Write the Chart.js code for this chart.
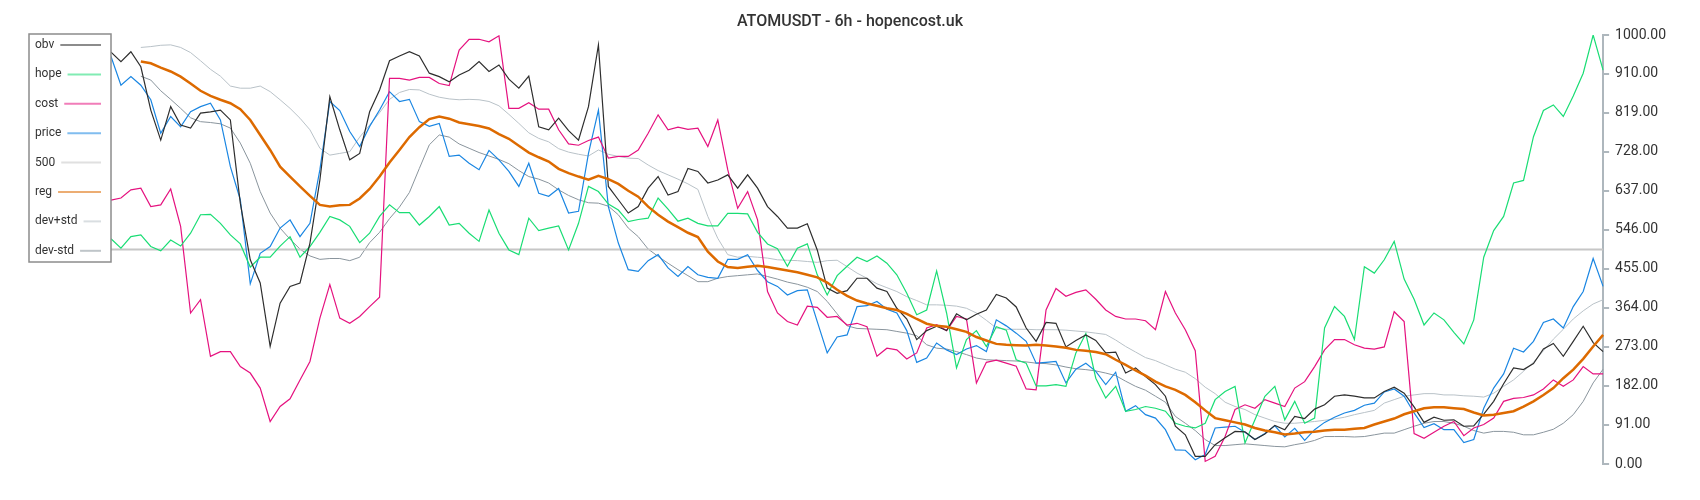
<!DOCTYPE html>
<html>
<head>
<meta charset="utf-8">
<title>ATOMUSDT - 6h - hopencost.uk</title>
<script src="https://cdn.jsdelivr.net/npm/chart.js@4.4.1/dist/chart.umd.min.js"></script>
<style>
  html, body { margin: 0; padding: 0; background: #fff; }
  #wrap { width: 1700px; height: 500px; }
</style>
</head>
<body>
<div id="wrap"><canvas id="chart"></canvas></div>
<script>
// values are normalised 0..1000, one per 6h candle
const obv = [960,
  938, 961, 926, 825, 755, 833, 790, 783, 818, 821, 825, 802, 608, 476, 422, 274, 375, 414, 422, 515, 662, 856,
  779, 709, 724, 821, 872, 940, 951, 961, 951, 911, 903, 891, 907, 918, 938, 915, 930, 897, 876, 904, 786,
  779, 806, 777, 755, 833, 977, 647, 616, 585, 600, 643, 670, 627, 635, 689, 682, 655, 662, 674, 643, 674,
  643, 600, 577, 550, 550, 560, 499, 410, 398, 404, 433, 433, 410, 402, 363, 338, 290, 311, 321, 311, 350,
  336, 349, 359, 395, 387, 366, 317, 286, 330, 328, 273, 288, 301, 288, 259, 261, 212, 224, 204, 185, 158,
  88, 68, 18, 18, 45, 61, 76, 75, 57, 70, 90, 80, 111, 106, 128, 138, 158, 161, 158, 154, 154,
  169, 179, 165, 133, 97, 109, 102, 103, 88, 89, 116, 146, 187, 224, 220, 234, 268, 281, 251, 286, 321, 283, 262];

const hope = [525,
  503, 530, 534, 507, 497, 522, 508, 538, 581, 582, 561, 534, 513, 459, 482, 482, 508, 530, 482, 507, 540, 577,
  569, 554, 516, 538, 577, 604, 586, 586, 557, 577, 600, 557, 561, 538, 519, 592, 538, 499, 488, 573, 544,
  550, 555, 499, 561, 647, 635, 606, 592, 565, 570, 573, 620, 594, 566, 573, 561, 555, 555, 584, 584, 583,
  540, 513, 502, 461, 503, 513, 441, 394, 439, 461, 482, 472, 485, 468, 441, 398, 348, 359, 450, 352, 224,
  290, 311, 274, 320, 312, 243, 235, 182, 182, 185, 181, 259, 304, 200, 154, 181, 123, 127, 134, 130, 123,
  95, 88, 84, 95, 150, 169, 181, 49, 103, 158, 181, 103, 146, 95, 107, 317, 367, 344, 290, 460, 445,
  476, 519, 431, 384, 324, 352, 336, 307, 280, 336, 482, 544, 577, 655, 661, 763, 824, 837, 810, 858, 911, 1000, 918];

const cost = [615,
  620, 639, 643, 600, 604, 641, 554, 352, 383, 251, 262, 262, 227, 212, 177, 99, 134, 152, 196, 239, 340, 418,
  340, 328, 344, 367, 389, 899, 899, 895, 901, 901, 887, 882, 965, 990, 990, 984, 998, 829, 829, 842, 827,
  827, 779, 746, 743, 754, 762, 713, 717, 717, 732, 771, 814, 779, 785, 780, 783, 740, 802, 686, 596, 635,
  569, 402, 352, 332, 324, 368, 365, 342, 344, 324, 328, 320, 251, 270, 266, 245, 259, 317, 325, 311, 344,
  338, 189, 237, 242, 235, 228, 175, 173, 359, 409, 391, 400, 406, 384, 359, 344, 338, 338, 334, 313, 402,
  352, 313, 264, 6, 18, 64, 127, 138, 130, 150, 142, 134, 177, 192, 227, 266, 290, 290, 278, 270, 268,
  273, 355, 332, 71, 60, 74, 88, 99, 66, 84, 92, 107, 146, 153, 155, 161, 175, 196, 181, 196, 227, 210, 210];

const price = [950,
  883, 903, 883, 849, 771, 810, 786, 821, 833, 841, 802, 693, 616, 420, 491, 507, 550, 569, 530, 561, 686, 845,
  824, 775, 740, 787, 825, 868, 845, 850, 798, 787, 794, 717, 720, 701, 686, 731, 709, 682, 647, 701, 631,
  624, 642, 585, 589, 724, 825, 600, 515, 453, 449, 474, 488, 457, 437, 460, 441, 435, 433, 477, 477, 488,
  451, 425, 414, 394, 404, 406, 332, 259, 296, 301, 367, 369, 379, 361, 352, 311, 237, 247, 282, 266, 255,
  268, 276, 262, 336, 322, 305, 286, 235, 237, 239, 189, 221, 235, 216, 185, 214, 123, 136, 115, 107, 80,
  33, 32, 10, 22, 84, 86, 88, 74, 57, 71, 89, 63, 83, 55, 80, 97, 109, 119, 125, 137, 142,
  168, 175, 158, 119, 85, 94, 80, 80, 50, 57, 130, 177, 210, 270, 261, 286, 330, 338, 317, 367, 402, 479, 414];

const reg = [null, null, null,
  938, 934, 924, 915, 903, 887, 870, 858, 849, 841, 827, 802, 767, 732, 693, 670, 647, 625, 604, 600,
  603, 604, 619, 641, 670, 703, 732, 762, 785, 804, 810, 805, 796, 792, 788, 782, 769, 758, 742, 726, 715,
  705, 688, 678, 670, 663, 672, 664, 653, 637, 623, 600, 581, 565, 552, 539, 529, 495, 472, 459, 457, 460,
  462, 459, 455, 451, 447, 441, 435, 423, 406, 392, 381, 374, 369, 363, 359, 350, 338, 327, 322, 320, 314,
  308, 296, 288, 280, 278, 277, 276, 278, 276, 274, 271, 266, 264, 261, 256, 243, 231, 218, 206, 192, 181,
  173, 161, 144, 125, 107, 102, 97, 92, 84, 78, 74, 69, 71, 74, 75, 78, 80, 80, 82, 84, 92,
  99, 106, 116, 123, 130, 132, 132, 130, 128, 120, 113, 115, 119, 123, 134, 146, 161, 177, 200, 220, 245, 274, 301];

const devPlus = [null, null, null,
  971, 973, 976, 977, 971, 959, 940, 920, 904, 881, 876, 876, 881, 868, 849, 829, 806, 779, 736, 720,
  724, 728, 762, 790, 819, 850, 866, 873, 872, 862, 855, 851, 849, 850, 849, 845, 835, 815, 794, 772, 759,
  751, 735, 727, 722, 718, 732, 722, 717, 713, 712, 697, 684, 674, 664, 653, 640, 577, 526, 488, 482, 484,
  482, 480, 476, 475, 474, 472, 470, 474, 475, 460, 445, 433, 420, 411, 402, 390, 381, 371, 371, 370, 368,
  363, 352, 335, 317, 314, 314, 314, 313, 313, 313, 312, 310, 308, 305, 302, 289, 274, 261, 248, 241, 231,
  221, 214, 199, 179, 164, 144, 134, 127, 115, 107, 99, 95, 95, 97, 99, 102, 105, 109, 115, 120, 125,
  142, 150, 158, 161, 164, 164, 161, 161, 159, 158, 156, 165, 181, 196, 216, 237, 264, 291, 314, 338, 357, 373, 383];

const devMinus = [null, null, null,
  904, 895, 870, 850, 829, 807, 798, 796, 793, 783, 748, 701, 635, 585, 550, 524, 501, 485, 477, 479,
  479, 474, 482, 516, 540, 572, 599, 633, 689, 744, 767, 762, 746, 736, 726, 718, 710, 700, 684, 670, 664,
  655, 639, 626, 616, 609, 608, 601, 581, 550, 530, 501, 484, 468, 453, 439, 425, 425, 433, 437, 439, 441,
  443, 437, 431, 424, 419, 412, 402, 379, 350, 322, 316, 315, 314, 313, 309, 305, 299, 278, 270, 268, 262,
  255, 247, 243, 242, 241, 240, 238, 235, 234, 231, 226, 222, 220, 217, 212, 206, 193, 181, 172, 158, 144,
  111, 95, 78, 57, 43, 43, 45, 47, 45, 43, 41, 40, 45, 49, 55, 64, 64, 64, 63, 64, 68,
  72, 72, 80, 88, 95, 99, 99, 95, 88, 78, 72, 76, 76, 74, 68, 68, 74, 81, 95, 115, 146, 189, 221];

const midLevel = 500;
const tickValues = [0, 91, 182, 273, 364, 455, 546, 637, 728, 819, 910, 1000];
const chartTitle = 'ATOMUSDT - 6h - hopencost.uk';

const candles = obv.map((_, i) => i);

// title centred on the whole canvas, legend as a boxed list on the left
const overlay = {
  id: 'overlay',
  afterDraw(chart) {
    const ctx = chart.ctx;
    ctx.save();
    ctx.fillStyle = '#333';
    ctx.font = '500 16px Roboto';
    ctx.textAlign = 'center';
    ctx.textBaseline = 'alphabetic';
    ctx.fillText(chartTitle, chart.width / 2, 26);

    ctx.textAlign = 'left';
    ctx.fillStyle = '#ffffff';
    ctx.fillRect(29, 34, 82, 228);
    ctx.strokeStyle = '#8c8c8c';
    ctx.lineWidth = 1.5;
    ctx.strokeRect(29, 34, 82, 228);
    ctx.font = '12px Roboto';
    ctx.textBaseline = 'middle';
    chart.data.datasets.forEach((ds, i) => {
      const y = 45 + i * 29.4;
      ctx.globalAlpha = 1;
      ctx.fillStyle = '#333';
      ctx.fillText(ds.label, 35, y);
      const w = ctx.measureText(ds.label).width;
      ctx.globalAlpha = 0.55;
      ctx.strokeStyle = ds.borderColor;
      ctx.lineWidth = 2;
      ctx.beginPath();
      ctx.moveTo(35 + w + 6, y);
      ctx.lineTo(101, y);
      ctx.stroke();
    });
    ctx.restore();
  }
};

function line(label, data, color, width, order) {
  return {
    label: label,
    data: data,
    borderColor: color,
    borderWidth: width,
    pointRadius: 0,
    tension: 0,
    spanGaps: false,
    order: order
  };
}

const ctx = document.getElementById('chart').getContext('2d');
new Chart(ctx, {
  type: 'line',
  data: {
    labels: candles,
    datasets: [
      line('obv', obv, '#2e2e2e', 1.2, 2),
      line('hope', hope, '#19dd74', 1.2, 2),
      line('cost', cost, '#e5127f', 1.2, 2),
      line('price', price, '#1a86e2', 1.2, 2),
      line('500', candles.map(() => midLevel), '#c6c6c6', 2, 3),
      line('reg', reg, '#dd6a00', 2.5, 1),
      line('dev+std', devPlus, '#b9c2c8', 1, 3),
      line('dev-std', devMinus, '#8a959d', 1, 3)
    ]
  },
  options: {
    responsive: true,
    maintainAspectRatio: false,
    animation: false,
    layout: {
      padding: { left: 111, right: 28, bottom: 36, top: 35 }
    },
    plugins: {
      legend: { display: false },
      tooltip: { enabled: false },
      title: { display: false }
    },
    scales: {
      x: {
        type: 'category',
        display: false
      },
      y: {
        position: 'right',
        min: 0,
        max: 1000,
        afterBuildTicks: (scale) => {
          scale.ticks = tickValues.map(v => ({ value: v }));
        },
        border: { display: true, color: '#aeb7bd', width: 2 },
        grid: {
          drawOnChartArea: false,
          drawTicks: true,
          tickLength: 6,
          color: '#aeb7bd',
          lineWidth: 2
        },
        ticks: {
          padding: 6,
          color: '#333',
          font: { family: 'Roboto', size: 14 },
          callback: (v) => Number(v).toFixed(2)
        }
      }
    }
  },
  plugins: [overlay]
});
</script>
</body>
</html>
